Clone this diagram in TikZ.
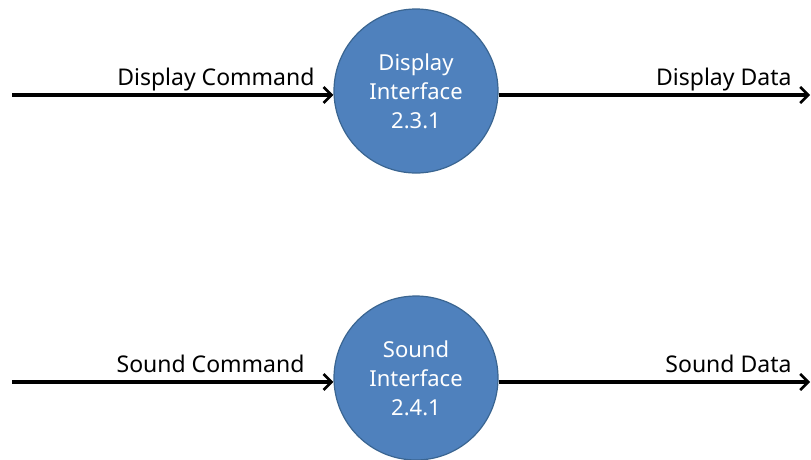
\documentclass[tikz,border=0pt]{standalone}
\usepackage{fontspec}
\setmainfont{Noto Sans}
\usetikzlibrary{arrows.meta}
\definecolor{procblue}{HTML}{4F81BD}
\definecolor{procedge}{HTML}{3A6591}
\tikzset{
  proc/.style={circle, fill=procblue, draw=procedge, line width=1.2pt, minimum size=164pt, inner sep=0pt,
    text=white, align=center, font=\fontsize{22}{29}\selectfont},
  flow/.style={line width=3.2pt, -{Straight Barb[length=8pt,width=16pt,line width=2.6pt]}},
  flowlabel/.style={anchor=base east, font=\fontsize{23}{27}\selectfont}
}
\begin{document}
\begin{tikzpicture}[x=1pt,y=-1pt]
\useasboundingbox (0,0) rectangle (811,459);
\node[proc] (disp) at (416,91) {Display\\Interface\\2.3.1};
\node[proc] (snd) at (416,378) {Sound\\Interface\\2.4.1};
\coordinate (dispin) at (12,95);
\coordinate (dispout) at (810,95);
\coordinate (sndin) at (12,382);
\coordinate (sndout) at (810,382);
\draw[flow] (dispin)--(dispin -| disp.west);
\draw[flow] (disp.east |- dispout)--(dispout);
\draw[flow] (sndin)--(sndin -| snd.west);
\draw[flow] (snd.east |- sndout)--(sndout);
\node[flowlabel] (dispcmd) at (318,85) {Display Command};
\node[flowlabel] (dispdata) at (795,85) {Display Data};
\node[flowlabel] (sndcmd) at (308,372) {Sound Command};
\node[flowlabel] (snddata) at (795,372) {Sound Data};
\end{tikzpicture}
\end{document}
